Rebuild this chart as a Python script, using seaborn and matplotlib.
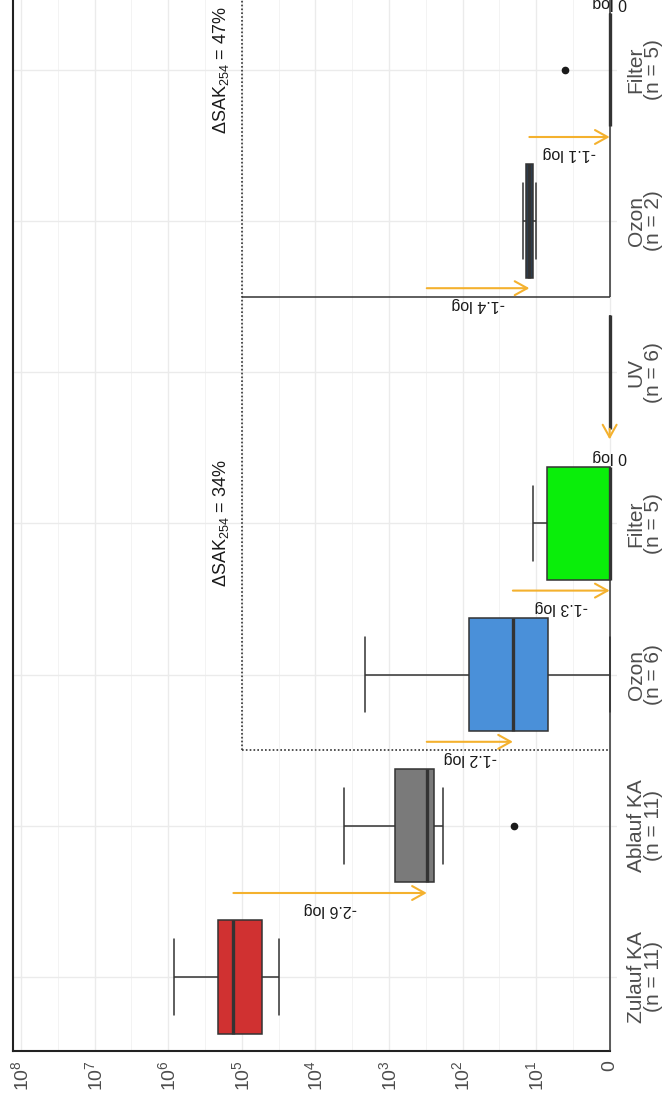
import numpy as np
import pandas as pd
import matplotlib
matplotlib.use("Agg")
import matplotlib.pyplot as plt
import seaborn as sns

# ---------------------------------------------------------------- data
stages = ["zulauf", "ablauf", "ozon_1", "filter_1", "uv", "ozon_2", "filter_2"]
stage_names = ["Zulauf KA", "Ablauf KA", "Ozon", "Filter", "UV", "Ozon", "Filter"]

zulauf = [31000, 40000, 50000, 57300, 89000, 130000, 158000, 195000, 223000, 355000, 834000]
ablauf = [20, 186, 229, 255, 275, 306, 398, 708, 964, 2000, 4070]
ozon_1 = [0, 4.8, 17, 25, 119, 2110]
filter_1 = [0, 0, 0, 7, 11]
uv = [0, 0, 0, 0, 0, 0]
ozon_2 = [10, 15]
filter_2 = [0, 0, 0, 0, 3.8]
groups = [zulauf, ablauf, ozon_1, filter_1, uv, ozon_2, filter_2]

box_colors = ["#D03131", "#7A7A7A", "#4A90D9", "#0AEE0A", "#333333", "#2C3E50", "#333333"]

# log reductions between treatment steps (median -> median)
step_from = [0, 1, 2, 3, 1, 5, 6]
step_to = [1, 2, 3, 4, 5, 6, 6]
step_labels = ["-2.6 log", "-1.2 log", "-1.3 log", "0 log", "-1.4 log", "-1.1 log", "0 log"]

sak_labels = ["ΔSAK$_{254}$ = 34%", "ΔSAK$_{254}$ = 47%"]
sak_stage = [3, 6]

value_ticks = [0, 1e1, 1e2, 1e3, 1e4, 1e5, 1e6, 1e7, 1e8]
value_tick_labels = ["0"] + [r"$\mathregular{10^{%d}}$" % k for k in range(1, 9)]

# ---------------------------------------------------------------- style
sns.set_style("white")
plt.rcParams["font.family"] = ["Liberation Sans", "DejaVu Sans"]
plt.rcParams["mathtext.fontset"] = "custom"
plt.rcParams["mathtext.rm"] = "Liberation Sans"
plt.rcParams["mathtext.it"] = "Liberation Sans:italic"
plt.rcParams["mathtext.bf"] = "Liberation Sans:bold"

LN10 = np.log(10)


def pseudo_log(x):
    return np.arcsinh(np.asarray(x, dtype=float) / 2.0) / LN10


def pseudo_log_inv(t):
    return 2.0 * np.sinh(np.asarray(t, dtype=float) * LN10)


ARROW = "#F4B12E"
INK = "#333333"
GRID = "#EBEBEB"

fig = plt.figure(figsize=(6.67, 10.98), dpi=100)
ax = fig.add_axes([13 / 667, 47 / 1098, 604 / 667, 1072 / 1098])
ax.set_xscale("function", functions=(pseudo_log, pseudo_log_inv))

df = pd.DataFrame({
    "stage": np.repeat(stages, [len(g) for g in groups]),
    "value": np.concatenate([np.asarray(g, dtype=float) for g in groups]),
})

sns.boxplot(
    data=df, x="value", y="stage", hue="stage",
    order=stages, hue_order=stages,
    palette=dict(zip(stages, box_colors)), saturation=1,
    orient="h", width=0.75, whis=1.5,
    linecolor=INK, linewidth=1.1, fliersize=4.5,
    capwidths=0.5,
    medianprops={"linewidth": 2.4},
    flierprops={"marker": "o", "markerfacecolor": "#1a1a1a",
                "markeredgecolor": "#1a1a1a"},
    legend=False, ax=ax,
)

x_left = pseudo_log_inv(8.11)
x_right = pseudo_log_inv(-0.10)
ax.set_xlim(x_left, x_right)
ax.set_ylim(-0.49, 6.6)

# ---------------------------------------------------------------- axes
ax.set_xticks(value_ticks)
ax.set_xticklabels(value_tick_labels)
t_major = pseudo_log(value_ticks)
ax.set_xticks(pseudo_log_inv((t_major[:-1] + t_major[1:]) / 2), minor=True)
ax.tick_params(axis="x", which="both", length=0)
ax.tick_params(axis="x", which="major", labelrotation=90, labelsize=14,
               labelcolor="#4D4D4D", pad=6.5)

ax.yaxis.tick_right()
ax.set_yticks(range(len(stages)))
ax.set_yticklabels([f"{name}\n(n = {len(g)})" for name, g in zip(stage_names, groups)])
for lab in ax.get_yticklabels():
    lab.set_rotation(90)
    lab.set_ha("left")
    lab.set_va("center")
    lab.set_multialignment("center")
    lab.set_linespacing(0.9)
    lab.set_fontsize(15)
    lab.set_color("#4D4D4D")
ax.tick_params(axis="y", length=0, pad=7)
ax.set_xlabel("")
ax.set_ylabel("")

ax.set_axisbelow(True)
ax.grid(True, which="major", axis="both", color=GRID, lw=1.0)
ax.grid(True, which="minor", axis="x", color="#F3F3F3", lw=0.7)

for side in ["top", "right"]:
    ax.spines[side].set_visible(False)
for side in ["left", "bottom"]:
    ax.spines[side].set_linewidth(1.5)
    ax.spines[side].set_color("#222222")
ax.spines["bottom"].set_bounds(x_left, 0)

# ---------------------------------------------------------------- brackets
bracket_value = 1e5
solid_kw = dict(color=INK, lw=1.1, solid_capstyle="butt", zorder=3)
dot_kw = dict(color=INK, lw=1.2, ls=(0, (1, 1.3)), zorder=3)
ax.plot([0, 0], [-0.49, 3.375], **solid_kw)
ax.plot([bracket_value, bracket_value], [1.5, 6.6], **dot_kw)
ax.plot([bracket_value, 0], [1.5, 1.5], **dot_kw)
ax.plot([bracket_value, 0], [4.5, 4.5], **solid_kw)
ax.plot([0, 0], [4.5, 6.6], **solid_kw)

for lab, st in zip(sak_labels, sak_stage):
    ax.text(10 ** 5.146, st, lab, rotation=90, ha="right", va="center",
            fontsize=13, color="#1a1a1a")

# ---------------------------------------------------------------- reduction arrows
t_med = [np.median(pseudo_log(g)) for g in groups]
arrow_style = "->,head_length=0.9,head_width=0.5"
for row, (a, b, lab) in enumerate(zip(step_from, step_to, step_labels)):
    y = row + 0.555
    x0 = pseudo_log_inv(t_med[a])
    x1 = pseudo_log_inv(t_med[b])
    if abs(t_med[a] - t_med[b]) > 1e-6:
        ax.annotate("", xy=(x1, y), xytext=(x0, y),
                    arrowprops=dict(arrowstyle=arrow_style, color=ARROW, lw=1.5,
                                    shrinkA=0, shrinkB=0, mutation_scale=10),
                    zorder=4)
    else:
        ax.annotate("", xy=(x1, y), xytext=(x1, y + 0.07),
                    arrowprops=dict(arrowstyle=arrow_style, color=ARROW, lw=1.5,
                                    shrinkA=0, shrinkB=0, mutation_scale=10),
                    zorder=4)
    xm = pseudo_log_inv((t_med[a] + t_med[b]) / 2)
    ax.text(xm, y - 0.11, lab, rotation=180, ha="center", va="center",
            fontsize=11.5, color="#1a1a1a", zorder=5)

fig.savefig("out.png", dpi=100)
